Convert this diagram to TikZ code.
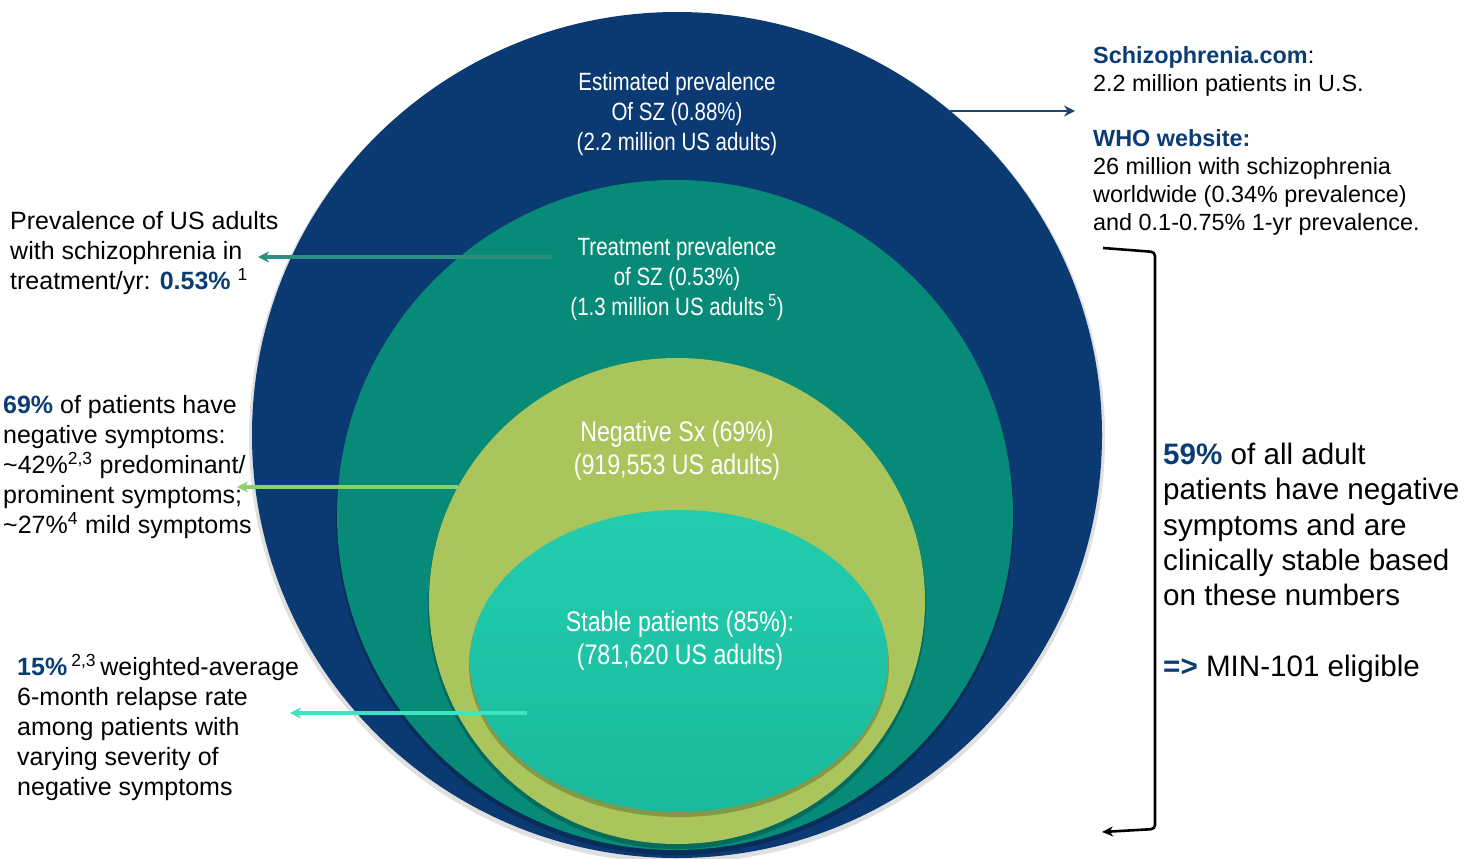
\documentclass[tikz,border=0pt]{standalone}
\usepackage{fontspec}
\setmainfont{Liberation Sans}
\newfontfamily\narrowf[FakeStretch=0.82]{Liberation Sans}
\usetikzlibrary{arrows.meta}
\definecolor{cblue}{HTML}{0B3A73}
\definecolor{cteal}{HTML}{078A78}
\definecolor{cyel}{HTML}{A9C55B}
\definecolor{clt}{HTML}{22CDAE}
\definecolor{clt2}{HTML}{1BB99C}
\definecolor{hb}{HTML}{0B3D75}
\definecolor{arblue}{HTML}{1F4670}
\definecolor{arteal}{HTML}{2A8E80}
\definecolor{argreen}{HTML}{8CD26C}
\definecolor{arcyan}{HTML}{3DE3C2}
\newcommand{\hl}[1]{\textbf{\textcolor{hb}{#1}}}
\tikzset{
  ctext/.style={text=white, align=center, inner sep=0pt, font=\narrowf\fontsize{25}{30}\selectfont},
  ctextb/.style={text=white, align=center, inner sep=0pt, font=\narrowf\fontsize{28.3}{33}\selectfont},
  ltext/.style={text=black, align=left, inner sep=0pt, anchor=north west, font=\fontsize{25}{30}\selectfont},
  rtext/.style={text=black, align=left, inner sep=0pt, anchor=north west, font=\fontsize{23.4}{28}\selectfont},
  btext/.style={text=black, align=left, inner sep=0pt, anchor=north west, font=\fontsize{29.6}{35.3}\selectfont},
  shadowell/.style={fill=black, opacity=0.22},
  carrow/.style={line width=3.2pt, -{Stealth[length=11pt,width=11pt]}},
}
\begin{document}
\begin{tikzpicture}[x=1pt,y=-1pt]
\useasboundingbox (0,0) rectangle (1480,859);
% outer ellipse
\fill[black,opacity=0.12] (677,438) ellipse [x radius=428pt, y radius=425pt];
\fill[cblue] (677,435) ellipse [x radius=425pt, y radius=423pt];
% teal
\fill[shadowell] (675,519) ellipse [x radius=339pt, y radius=336pt];
\fill[cteal] (675,515) ellipse [x radius=338pt, y radius=335pt];
% yellow
\fill[shadowell] (677,605) ellipse [x radius=249pt, y radius=244pt];
\fill[cyel] (677,601) ellipse [x radius=248pt, y radius=243pt];
% light teal
\fill[shadowell] (679,665) ellipse [x radius=210pt, y radius=152pt];
\shade[top color=clt, bottom color=clt2] (679,661) ellipse [x radius=209pt, y radius=151pt];

% circle texts
\node[ctext] (est) at (677,114) {Estimated prevalence\\Of SZ (0.88\%)\\(2.2 million US adults)};
\node[ctext] (trt) at (677,279) {Treatment prevalence\\of SZ (0.53\%)\\(1.3 million US adults\,\textsuperscript{5})};
\node[ctextb] (neg) at (677,451) {Negative Sx (69\%)\\(919,553 US adults)};
\node[ctextb] (stb) at (680,641) {Stable patients (85\%):\\(781,620 US adults)};

% left texts
\node[ltext] (l1) at (10,211) {Prevalence of US adults\\with schizophrenia in\\treatment/yr: \hl{0.53\%} \textsuperscript{1}};
\node[ltext] (l2) at (3,395) {\hl{69\%} of patients have\\negative symptoms:\\\textasciitilde42\%\textsuperscript{2,3} predominant/\\prominent symptoms;\\\textasciitilde27\%\textsuperscript{4} mild symptoms};
\node[ltext] (l3) at (17,654) {\hl{15\%}\,\textsuperscript{2,3}\,weighted-average\\6-month relapse rate\\among patients with\\varying severity of\\negative symptoms};

% right texts
\node[rtext] (r1) at (1093,46) {\hl{Schizophrenia.com}:\\2.2 million patients in U.S.\\[27pt]\hl{WHO website:}\\26 million with schizophrenia\\worldwide (0.34\% prevalence)\\and 0.1-0.75\% 1-yr prevalence.};
\node[btext] (r2) at (1163,443) {\hl{59\%} of all adult\\patients have negative\\symptoms and are\\clinically stable based\\on these numbers\\[35.3pt]\hl{=>} MIN-101 eligible};

% arrows
\coordinate (aB1) at (950,111);
\coordinate (aB2) at (1075,111);
\draw[line width=2.6pt, arblue, -{Stealth[length=11pt,width=11pt]}] (aB1) -- (aB2);
\coordinate (aT1) at (552,257);
\coordinate (aT2) at (258,257);
\draw[carrow, arteal] (aT1) -- (aT2);
\coordinate (aG1) at (458,487);
\coordinate (aG2) at (237,487);
\draw[carrow, argreen] (aG1) -- (aG2);
\coordinate (aC1) at (527,713);
\coordinate (aC2) at (290,713);
\draw[carrow, arcyan] (aC1) -- (aC2);

% bracket
\coordinate (k1) at (1103,248);
\coordinate (k2) at (1155,252);
\coordinate (k3) at (1155,829);
\coordinate (k4) at (1102,832);
\draw[line width=2.6pt, black, rounded corners=4pt, -{Stealth[length=11pt,width=10pt]}] (k1) -- (k2) -- (k3) -- (k4);
\end{tikzpicture}
\end{document}
